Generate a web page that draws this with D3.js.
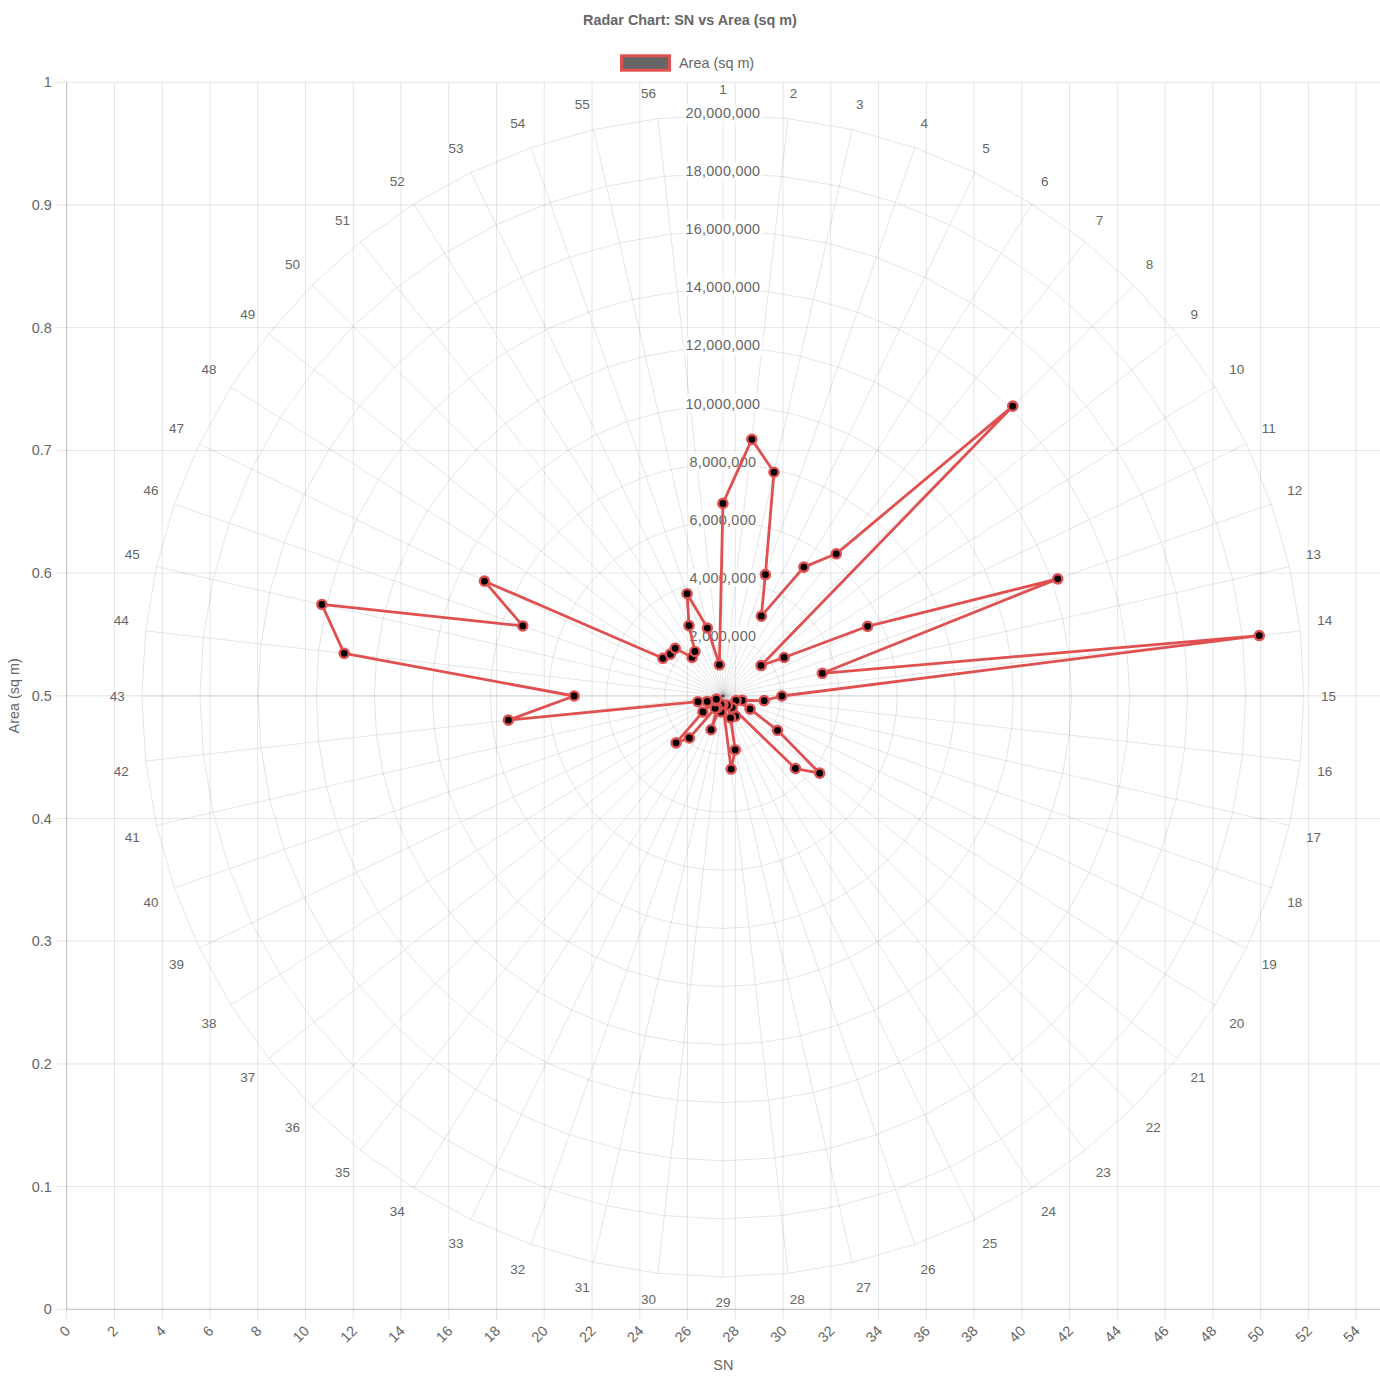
<!DOCTYPE html>
<html>
<head>
<meta charset="utf-8">
<script src="https://cdn.jsdelivr.net/npm/d3@7"></script>
<style>
  body { margin: 0; background: #fff; }
  svg text { font-family: "Liberation Sans", Arial, Helvetica, sans-serif; fill: #666; }
</style>
</head>
<body>
<div id="chart"></div>
<script>
// -------- Data --------
const SN = d3.range(1, 57);

// Area (sq m) per SN
const AREA = [
  6630000, 8890000, 7900000, 4430000, 3050000, 5240000, 6260000, 14110000,
  1680000, 2490000, 5530000, 12210000, 3510000, 18580000, 2030000, 1430000,
  680000, 480000, 1040000, 2220000, 4260000, 3530000, 510000, 820000,
  350000, 800000, 1900000, 2530000, 300000, 550000, 300000, 1230000,
  450000, 500000, 1850000, 2280000, 880000, 300000, 250000, 570000,
  880000, 7430000, 5120000, 13120000, 14160000, 7300000, 9110000, 2440000,
  2310000, 2320000, 1700000, 1810000, 2690000, 3730000, 2400000, 1080000
];

const RADIAL_TICKS = d3.range(2000000, 20000001, 2000000);
const X_TICKS = d3.range(0, 55, 2);
const Y_TICKS = d3.range(0, 1.0001, 0.1);

const TITLE = "Radar Chart: SN vs Area (sq m)";
const SERIES_NAME = "Area (sq m)";
const X_TITLE = "SN";
const Y_TITLE = "Area (sq m)";

// -------- Layout --------
const W = 1380, H = 1380;
const plot = { left: 66.7, right: 1380, top: 82.3, bottom: 1309.3 };
const RED = "rgb(224, 80, 80)";
const GRID = "rgba(0,0,0,0.1)";
const fs = 14.4;

const svg = d3.select("#chart").append("svg")
  .attr("width", W)
  .attr("height", H);

// cartesian scales
const x = d3.scaleLinear().domain([0, 55]).range([plot.left, plot.right]);
const y = d3.scaleLinear().domain([0, 1]).range([plot.bottom, plot.top]);

// radar scales
const cx = 722.9, cy = 696;
const R = 581;
const r = d3.scaleLinear().domain([0, 20000000]).range([0, R]);
const ang = d3.scaleLinear().domain([0, SN.length]).range([0, 2 * Math.PI]);

function pt(i, dist) {
  const a = ang(i);
  return [cx + dist * Math.sin(a), cy - dist * Math.cos(a)];
}

// -------- Cartesian grid + axes --------
const gx = svg.append("g");
gx.selectAll("line")
  .data(X_TICKS)
  .join("line")
  .attr("x1", d => x(d)).attr("x2", d => x(d))
  .attr("y1", plot.top).attr("y2", plot.bottom + 10)
  .attr("stroke", GRID);

gx.selectAll("text")
  .data(X_TICKS)
  .join("text")
  .attr("transform", d => `translate(${x(d) + 1},${plot.bottom + 19}) rotate(-45)`)
  .attr("text-anchor", "end")
  .attr("dy", "0.35em")
  .attr("font-size", fs)
  .text(d => d);

const gy = svg.append("g");
gy.selectAll("line")
  .data(Y_TICKS)
  .join("line")
  .attr("x1", plot.left - 10).attr("x2", plot.right)
  .attr("y1", d => y(d)).attr("y2", d => y(d))
  .attr("stroke", GRID);

gy.selectAll("text")
  .data(Y_TICKS)
  .join("text")
  .attr("x", plot.left - 15)
  .attr("y", d => y(d))
  .attr("dy", "0.35em")
  .attr("text-anchor", "end")
  .attr("font-size", fs)
  .text(d => d3.format("~g")(+d.toFixed(1)));

// axis borders
svg.append("line")
  .attr("x1", plot.left).attr("x2", plot.left)
  .attr("y1", plot.top).attr("y2", plot.bottom)
  .attr("stroke", "rgba(0,0,0,0.18)");
svg.append("line")
  .attr("x1", plot.left).attr("x2", plot.right)
  .attr("y1", plot.bottom).attr("y2", plot.bottom)
  .attr("stroke", "rgba(0,0,0,0.18)");

// axis titles
svg.append("text")
  .attr("x", (plot.left + plot.right) / 2)
  .attr("y", 1365)
  .attr("dy", "0.35em")
  .attr("text-anchor", "middle")
  .attr("font-size", fs)
  .text(X_TITLE);

svg.append("text")
  .attr("transform", `translate(14,${(plot.top + plot.bottom) / 2}) rotate(-90)`)
  .attr("dy", "0.35em")
  .attr("text-anchor", "middle")
  .attr("font-size", fs)
  .text(Y_TITLE);

// -------- Radar grid --------
const gr = svg.append("g");
const ringLine = d3.line();
gr.selectAll("path.ring")
  .data(RADIAL_TICKS)
  .join("path")
  .attr("class", "ring")
  .attr("d", v => ringLine(SN.map((_, i) => pt(i, r(v)))) + "Z")
  .attr("fill", "none")
  .attr("stroke", GRID);

gr.selectAll("line.spoke")
  .data(SN)
  .join("line")
  .attr("class", "spoke")
  .attr("x1", cx).attr("y1", cy)
  .attr("x2", (_, i) => pt(i, R)[0])
  .attr("y2", (_, i) => pt(i, R)[1])
  .attr("stroke", GRID);

// point labels round the outside
gr.selectAll("text.plabel")
  .data(SN)
  .join("text")
  .attr("class", "plabel")
  .each(function (d, i) {
    const deg = i * 360 / SN.length;
    const [px, py] = pt(i, R + 17);
    let anchor = "middle";
    if (deg > 0.01 && deg < 179.99) anchor = "start";
    else if (deg > 180.01) anchor = "end";
    let yy = py;
    if (Math.abs(deg - 90) < 0.01 || Math.abs(deg - 270) < 0.01) yy = py;
    else if (deg < 90 || deg > 270) yy = py - fs * 0.6;
    else yy = py + fs * 0.6;
    d3.select(this)
      .attr("x", px)
      .attr("y", yy)
      .attr("dy", "0.35em")
      .attr("text-anchor", anchor)
      .attr("font-size", 13.5)
      .text(d);
  });

// radial tick labels with backdrop
const tl = gr.selectAll("g.rtick")
  .data(RADIAL_TICKS)
  .join("g")
  .attr("class", "rtick")
  .attr("transform", v => `translate(${cx},${cy - r(v) - 2})`);

tl.append("text")
  .attr("text-anchor", "middle")
  .attr("dy", "0.35em")
  .attr("font-size", fs)
  .attr("letter-spacing", 0.3)
  .text(v => d3.format(",")(v))
  .each(function () {
    const b = this.getBBox();
    d3.select(this.parentNode).insert("rect", "text")
      .attr("x", b.x - 2)
      .attr("y", -fs / 2 - 2)
      .attr("width", b.width + 4)
      .attr("height", fs + 4)
      .attr("fill", "rgba(255,255,255,0.75)");
  });

// -------- Data series --------
const points = AREA.map((v, i) => pt(i, r(v)));

svg.append("path")
  .attr("d", d3.line()(points) + "Z")
  .attr("fill", "none")
  .attr("stroke", RED)
  .attr("stroke-width", 2.8)
  .attr("stroke-linejoin", "round");

svg.append("g").selectAll("circle")
  .data(points)
  .join("circle")
  .attr("cx", d => d[0])
  .attr("cy", d => d[1])
  .attr("r", 4.6)
  .attr("fill", "#000")
  .attr("stroke", RED)
  .attr("stroke-width", 2.4);

// -------- Title + legend --------
svg.append("text")
  .attr("x", W / 2)
  .attr("y", 20)
  .attr("dy", "0.35em")
  .attr("text-anchor", "middle")
  .attr("font-size", fs)
  .attr("font-weight", "bold")
  .text(TITLE);

svg.append("rect")
  .attr("x", 621.5)
  .attr("y", 55.8)
  .attr("width", 48)
  .attr("height", 14.4)
  .attr("fill", "#666")
  .attr("stroke", RED)
  .attr("stroke-width", 3);

svg.append("text")
  .attr("x", 679)
  .attr("y", 63)
  .attr("dy", "0.35em")
  .attr("font-size", fs)
  .text(SERIES_NAME);
</script>
</body>
</html>
